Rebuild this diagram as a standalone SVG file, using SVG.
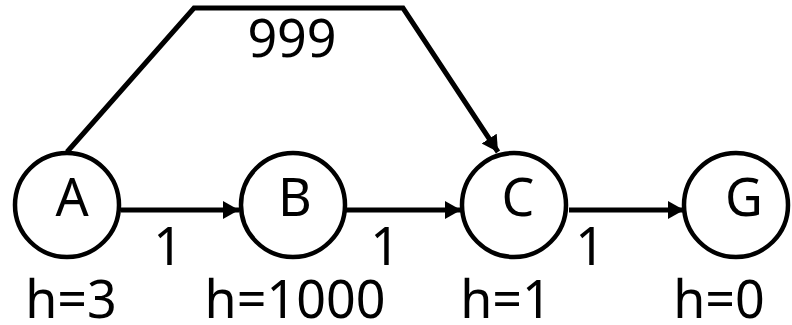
<svg xmlns="http://www.w3.org/2000/svg" width="792" height="325" viewBox="0 0 792 325">
<style>
.node{fill:#fff;stroke:#000;stroke-width:4.5}
.edge{fill:none;stroke:#000;stroke-width:5}
text{font-family:"Noto Sans","Open Sans",sans-serif;font-size:52px;fill:#000;text-anchor:middle}
</style>
<defs>
<marker id="ah" markerUnits="userSpaceOnUse" markerWidth="20" markerHeight="20" refX="16" refY="9" orient="auto">
<path d="M0,0 L16,9 L0,18 z" fill="#000"/>
</marker>
</defs>
<rect width="792" height="325" fill="#fff"/>
<g id="connectors">
<line class="edge" x1="121" y1="210" x2="239" y2="210" marker-end="url(#ah)"/>
<line class="edge" x1="346" y1="210" x2="461" y2="210" marker-end="url(#ah)"/>
<line class="edge" x1="569" y1="210" x2="684" y2="210" marker-end="url(#ah)"/>
<polyline class="edge" points="67,152 194,8 403,8 498,152" marker-end="url(#ah)"/>
<text x="292" y="57">999</text>
<text x="168" y="265">1</text>
<text x="385" y="265">1</text>
<text x="590" y="265">1</text>
</g>
<g id="node-A">
<circle class="node" cx="67" cy="205" r="52"/>
<text x="72" y="216">A</text>
<text x="71" y="318">h=3</text>
</g>
<g id="node-B">
<circle class="node" cx="293" cy="205" r="52"/>
<text x="295" y="216">B</text>
<text x="295" y="318">h=1000</text>
</g>
<g id="node-C">
<circle class="node" cx="514" cy="205" r="52"/>
<text x="518" y="216">C</text>
<text x="506" y="318">h=1</text>
</g>
<g id="node-G">
<circle class="node" cx="736" cy="205" r="52"/>
<text x="744" y="216">G</text>
<text x="719" y="318">h=0</text>
</g>
</svg>
